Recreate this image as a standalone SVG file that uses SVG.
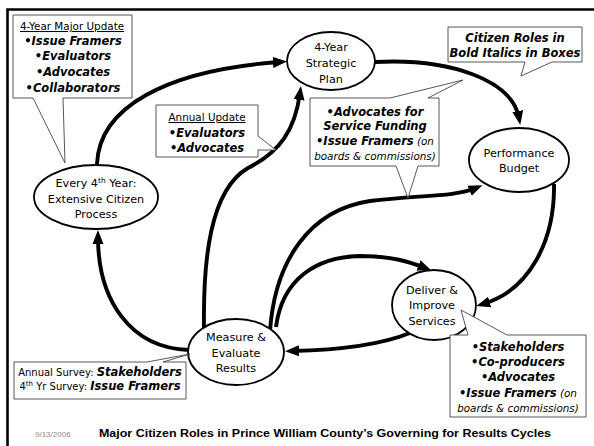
<svg xmlns="http://www.w3.org/2000/svg" width="594" height="446" viewBox="0 0 594 446">
<style>
text{font-family:"DejaVu Sans",Verdana,sans-serif;fill:#000}
.n{font-size:11.2px;text-anchor:middle}
.t{font-size:10.4px;text-anchor:middle;text-decoration:underline}
.b{font-size:11.5px;font-weight:bold;font-style:italic}
.i{font-size:10.4px;font-style:italic;font-weight:normal}
.r{font-size:10px}
.m{text-anchor:middle}
.node{fill:#fff;stroke:#000;stroke-width:1.8}
.call{fill:#fff;stroke:#444;stroke-width:0.9}
.arr{fill:none;stroke:#000;stroke-width:3.9;marker-end:url(#ah)}
</style>
<defs>
<marker id="ah" markerUnits="userSpaceOnUse" markerWidth="15" markerHeight="13" refX="7" refY="6.5" orient="auto">
<path d="M0,1 L14,6.5 L0,12 Z" fill="#000"/>
</marker>
</defs>
<rect width="594" height="446" fill="#fff"/>
<g id="frame" fill="none" stroke="#000" stroke-width="2.6">
<path d="M7.5,446 V9.5 H594"/>
</g>
<g id="connectors">
<path class="arr" d="M97,164 C 99,108 165,70 280,62"/>
<path class="arr" d="M375,62 C 450,58 512,80 519,118"/>
<path class="arr" d="M554,184 C 555,240 530,290 483,304"/>
<path class="arr" d="M410,333 C 380,345 340,350 292,351"/>
<path class="arr" d="M189,350 C 130,348 98,300 98,237"/>
<path class="arr" d="M204,328 C 203,260 210,190 248,168 C 280,152 295,130 300,93"/>
<path class="arr" d="M270,331 C 275,260 310,210 370,201 C 420,195 455,197 476,188"/>
<path class="arr" d="M276,327 C 282,280 315,257 360,256 C 392,256 410,262 425,268"/>
</g>
<g id="plan">
<ellipse class="node" cx="331" cy="61" rx="44" ry="29"/>
<text class="n" x="331" y="51">4-Year</text>
<text class="n" x="331" y="67">Strategic</text>
<text class="n" x="331" y="83">Plan</text>
</g>
<g id="budget">
<ellipse class="node" cx="519" cy="160" rx="50" ry="32"/>
<text class="n" x="519" y="156.5">Performance</text>
<text class="n" x="519" y="171.5">Budget</text>
</g>
<g id="every4th">
<ellipse class="node" cx="96" cy="197" rx="62" ry="32"/>
<text class="n" x="96" y="187">Every 4<tspan font-size="7.5" dy="-4">th</tspan><tspan dy="4"> Year:</tspan></text>
<text class="n" x="96" y="203">Extensive Citizen</text>
<text class="n" x="96" y="218">Process</text>
</g>
<g id="measure">
<ellipse class="node" cx="236" cy="352" rx="48" ry="33"/>
<text class="n" x="236" y="341">Measure &amp;</text>
<text class="n" x="236" y="357">Evaluate</text>
<text class="n" x="236" y="372">Results</text>
</g>
<g id="deliver">
<ellipse class="node" cx="434" cy="305" rx="42" ry="35"/>
<text class="n" x="432" y="294">Deliver &amp;</text>
<text class="n" x="432" y="309">Improve</text>
<text class="n" x="432" y="325">Services</text>
</g>
<g id="callout-major">
<path class="call" d="M13,15 H132 V98 H63 L65,163 L33,98 H13 Z"/>
<text class="t" x="72" y="30">4-Year Major Update</text>
<text class="b m" x="73" y="45">•Issue Framers</text>
<text class="b m" x="73" y="60">•Evaluators</text>
<text class="b m" x="73" y="76">•Advocates</text>
<text class="b m" x="73" y="92">•Collaborators</text>
</g>
<g id="callout-annual">
<path class="call" d="M156,105 H258 V136 L276,150 L258,150 V157 H156 Z"/>
<text class="t" x="207" y="121">Annual Update</text>
<text class="b m" x="207" y="137">•Evaluators</text>
<text class="b m" x="207" y="152">•Advocates</text>
</g>
<g id="callout-legend">
<path class="call" d="M448,27 H582 V62 H552 L521,76 L525,62 H448 Z"/>
<text class="b m" x="515" y="42" font-size="10">Citizen Roles in</text>
<text class="b m" x="515" y="57" font-size="10">Bold Italics in Boxes</text>
</g>
<g id="callout-budget">
<path class="call" d="M310,98 H390 L463,80 L428,98 H439 V166 H418 L408,198 L396,166 H310 Z"/>
<text class="b m" x="375" y="116">•Advocates for</text>
<text class="b m" x="375" y="130">Service Funding</text>
<text class="b m" x="375" y="145">•Issue Framers<tspan class="i"> (on</tspan></text>
<text class="i m" x="375" y="160">boards &amp; commissions)</text>
</g>
<g id="callout-deliver">
<path class="call" d="M450,335 H468 L461,310 L507,335 H586 V417 H450 Z"/>
<text class="b m" x="518" y="351">•Stakeholders</text>
<text class="b m" x="518" y="366">•Co-producers</text>
<text class="b m" x="518" y="381">•Advocates</text>
<text class="b m" x="518" y="397">•Issue Framers<tspan class="i"> (on</tspan></text>
<text class="i m" x="518" y="412">boards &amp; commissions)</text>
</g>
<g id="callout-survey">
<path class="call" d="M14,362 H147 L190,354 L163,362 H186 V399 H14 Z"/>
<text class="r m" x="100" y="376">Annual Survey: <tspan class="b" font-size="10">Stakeholders</tspan></text>
<text class="r m" x="100" y="390">4<tspan font-size="7" dy="-4">th</tspan><tspan dy="4"> Yr Survey: </tspan><tspan class="b" font-size="10">Issue Framers</tspan></text>
</g>
<g id="footer">
<text x="35" y="437" style="fill:#8c8c8c;font-family:'Liberation Sans',sans-serif;font-size:8px">9/13/2006</text>
<text x="99" y="437" style="font-family:'Liberation Sans',sans-serif;font-size:10.2px;font-weight:bold" textLength="452" lengthAdjust="spacingAndGlyphs">Major Citizen Roles in Prince William County’s Governing for Results Cycles</text>
</g>
</svg>
